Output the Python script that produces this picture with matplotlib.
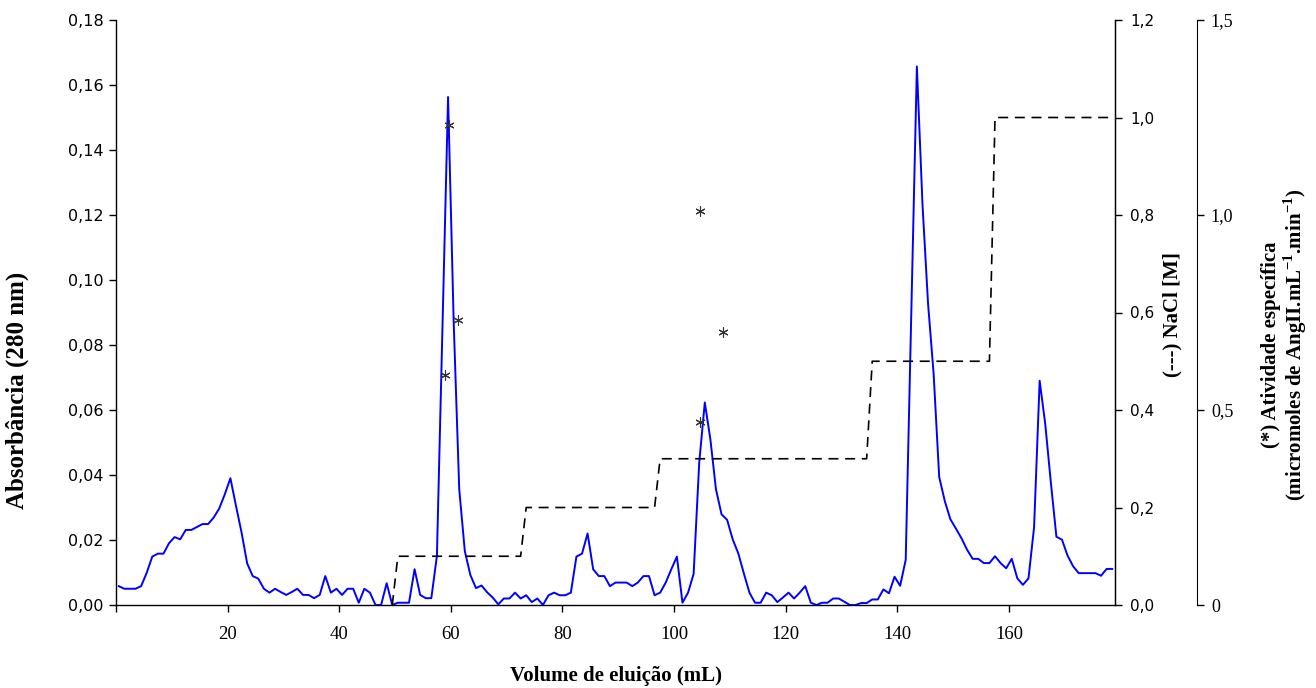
import numpy as np
import matplotlib
matplotlib.use("Agg")
import matplotlib.pyplot as plt
from matplotlib.ticker import FixedLocator, FixedFormatter

plt.rcParams["mathtext.fontset"] = "custom"
plt.rcParams["mathtext.bf"] = "Liberation Serif:bold"
plt.rcParams["mathtext.rm"] = "Liberation Serif"

# Absorbance at 280 nm, one reading per 1 mL fraction (fractions 1..179)
absorbance = [
    0.0058, 0.0050, 0.0050, 0.0050, 0.0058, 0.0099, 0.0149, 0.0158, 0.0158, 0.0190,
    0.0209, 0.0202, 0.0231, 0.0231, 0.0240, 0.0249, 0.0249, 0.0269, 0.0297, 0.0341,
    0.0390, 0.0305, 0.0223, 0.0128, 0.0089, 0.0081, 0.0050, 0.0038, 0.0050, 0.0040,
    0.0031, 0.0040, 0.0050, 0.0031, 0.0031, 0.0021, 0.0031, 0.0089, 0.0038, 0.0050,
    0.0031, 0.0050, 0.0050, 0.0007, 0.0050, 0.0038, 0.0000, 0.0000, 0.0067, 0.0000,
    0.0007, 0.0007, 0.0007, 0.0110, 0.0031, 0.0021, 0.0021, 0.0151, 0.0860, 0.1563,
    0.0874, 0.0356, 0.0166, 0.0092, 0.0052, 0.0060, 0.0039, 0.0023, 0.0002, 0.0020,
    0.0020, 0.0038, 0.0020, 0.0030, 0.0009, 0.0020, 0.0000, 0.0030, 0.0038, 0.0030,
    0.0030, 0.0038, 0.0149, 0.0158, 0.0220, 0.0110, 0.0089, 0.0089, 0.0058, 0.0069,
    0.0069, 0.0069, 0.0058, 0.0069, 0.0089, 0.0089, 0.0030, 0.0038, 0.0069, 0.0110,
    0.0149, 0.0007, 0.0038, 0.0096, 0.0438, 0.0623, 0.0510, 0.0356, 0.0279, 0.0262,
    0.0202, 0.0159, 0.0097, 0.0038, 0.0007, 0.0007, 0.0038, 0.0030, 0.0009, 0.0023,
    0.0038, 0.0020, 0.0038, 0.0058, 0.0007, 0.0000, 0.0007, 0.0007, 0.0020, 0.0020,
    0.0010, 0.0000, 0.0000, 0.0006, 0.0006, 0.0017, 0.0017, 0.0048, 0.0036, 0.0087,
    0.0059, 0.0139, 0.0900, 0.1657, 0.1235, 0.0928, 0.0712, 0.0394, 0.0320, 0.0264,
    0.0235, 0.0205, 0.0170, 0.0142, 0.0142, 0.0129, 0.0129, 0.0150, 0.0129, 0.0113,
    0.0142, 0.0082, 0.0062, 0.0082, 0.0239, 0.0690, 0.0557, 0.0378, 0.0210, 0.0201,
    0.0152, 0.0119, 0.0098, 0.0098, 0.0098, 0.0098, 0.0090, 0.0111, 0.0111,
]

# NaCl step gradient: concentration (M) and the fraction index where each step begins
nacl_levels = [0.0, 0.1, 0.2, 0.3, 0.5, 1.0]
nacl_step_start = [49, 50, 73, 97, 135, 157]

# Specific activity (micromol AngII / mL / min) of the assayed fractions
activity_volume = [59.6, 61.3, 59.0, 104.7, 108.7, 104.7]
activity_value = [1.23, 0.73, 0.59, 1.01, 0.70, 0.47]

# Axis ticks and labels
abs_ticks = [0.00, 0.02, 0.04, 0.06, 0.08, 0.10, 0.12, 0.14, 0.16, 0.18]
abs_ticklabels = ["0,00", "0,02", "0,04", "0,06", "0,08", "0,10", "0,12", "0,14", "0,16", "0,18"]
vol_ticks = [0, 20, 40, 60, 80, 100, 120, 140, 160]
vol_ticklabels = ["", "20", "40", "60", "80", "100", "120", "140", "160"]
nacl_ticks = [0.0, 0.2, 0.4, 0.6, 0.8, 1.0, 1.2]
nacl_ticklabels = ["0,0", "0,2", "0,4", "0,6", "0,8", "1,0", "1,2"]
act_ticks = [0.0, 0.5, 1.0, 1.5]
act_ticklabels = ["0", "0,5", "1,0", "1,5"]

n_fractions = len(absorbance)
volume = np.arange(n_fractions) + 0.5

# expand the gradient schedule into one value per fraction
step_ends = nacl_step_start[1:] + [n_fractions]
nacl = np.concatenate([np.full(e - s, lvl) for lvl, s, e in zip(nacl_levels, nacl_step_start, step_ends)])
nacl_volume = np.arange(nacl_step_start[0], n_fractions) + 0.5

W, H = 1316, 688
fig = plt.figure(figsize=(W / 100, H / 100), dpi=100)
left, right, bottom, top = 116, 1115, 605, 20
ax = fig.add_axes([left / W, (H - bottom) / H, (right - left) / W, (bottom - top) / H])


def ax_x(px):
    return (px - left) / (right - left)


def ax_y(py):
    return (bottom - py) / (bottom - top)


serif = "Liberation Serif"
sans = "DejaVu Sans"

ax.plot(volume, absorbance, color="#0000FF", lw=1.4, zorder=3)
ax.set_xlim(0, n_fractions)
ax.set_ylim(0, 0.18)
ax.yaxis.set_major_locator(FixedLocator(abs_ticks))
ax.yaxis.set_major_formatter(FixedFormatter(abs_ticklabels))
ax.xaxis.set_major_locator(FixedLocator(vol_ticks))
ax.xaxis.set_major_formatter(FixedFormatter(vol_ticklabels))
ax.tick_params(axis="y", direction="out", length=5, width=1, pad=4, labelsize=11.5)
ax.tick_params(axis="x", direction="out", length=5, width=1, pad=10, labelsize=13.5)
for t in ax.get_yticklabels():
    t.set_fontfamily(sans)
for t in ax.get_xticklabels():
    t.set_fontfamily(serif)
ax.spines["top"].set_visible(False)
for s in ("left", "bottom", "right"):
    ax.spines[s].set_linewidth(1.0)
ax.set_xlabel("Volume de eluição (mL)", fontsize=15, fontweight="bold", family=serif, labelpad=17)
ax.set_ylabel("Absorbância (280 nm)", fontsize=18, fontweight="bold", family=serif)
# left label: anchor is the right edge of the rotated text
ax.yaxis.set_label_coords(ax_x(29), ax_y(390))

# NaCl axis
ax2 = ax.twinx()
ax2.plot(nacl_volume, nacl, color="black", lw=1.2, ls=(0, (6, 4)), zorder=2)
ax2.set_ylim(0, 1.2)
ax2.yaxis.set_major_locator(FixedLocator(nacl_ticks))
ax2.yaxis.set_major_formatter(FixedFormatter(nacl_ticklabels))
ax2.tick_params(axis="y", direction="out", length=5, width=1, pad=6, labelsize=11)
for t in ax2.get_yticklabels():
    t.set_fontfamily(sans)
for s in ("top", "left", "bottom"):
    ax2.spines[s].set_visible(False)
ax2.set_ylabel("(---) NaCl [M]", fontsize=15, fontweight="bold", family=serif)
# right labels: anchor is the left edge of the rotated text
ax2.yaxis.set_label_coords(ax_x(1162), ax_y(315))

# specific activity axis, offset to the right
ax3 = ax.twinx()
ax3.spines["right"].set_position(("axes", ax_x(1197)))
for s in ("top", "left", "bottom"):
    ax3.spines[s].set_visible(False)
ax3.set_ylim(0, 1.5)
ax3.yaxis.set_major_locator(FixedLocator(act_ticks))
ax3.yaxis.set_major_formatter(FixedFormatter(act_ticklabels))
ax3.tick_params(axis="y", direction="out", length=5, width=1, pad=5, labelsize=13)
for t in ax3.get_yticklabels():
    t.set_fontfamily(serif)
ax3.scatter(activity_volume, activity_value, marker=(6, 2, 0), s=45, color="#333333",
            linewidths=0.8, zorder=5, clip_on=False)
ax3.set_ylabel("(*) Atividade específica\n(micromoles de AngII.mL$^{\\mathbf{-1}}$.min$^{\\mathbf{-1}}$)",
               fontsize=15, fontweight="bold", family=serif, linespacing=1.0)
ax3.yaxis.set_label_coords(ax_x(1261), ax_y(345))

fig.savefig("out.png", dpi=100)
